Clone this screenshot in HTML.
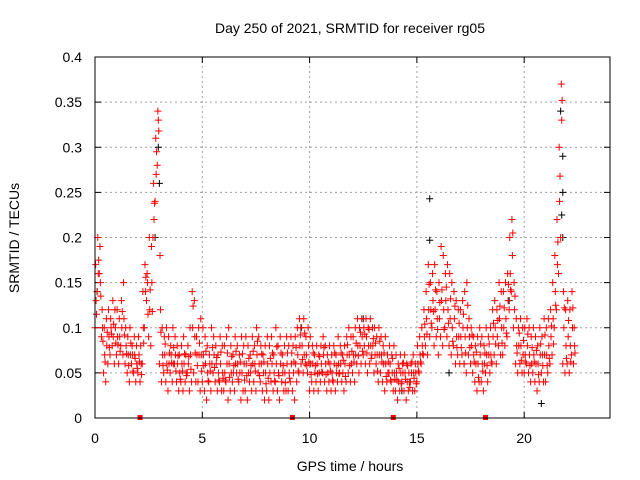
<!DOCTYPE html>
<html><head><meta charset="utf-8"><style>
body{margin:0;background:#fff;}
svg{display:block;font-family:"Liberation Sans",sans-serif;}
</style></head><body>
<svg id="chart" width="640" height="480">
<text x="350" y="33" font-size="14" text-anchor="middle">Day 250 of 2021, SRMTID for receiver rg05</text>
<text x="350" y="471" font-size="14" text-anchor="middle">GPS time / hours</text>
<text transform="translate(19,238) rotate(-90)" font-size="14" text-anchor="middle">SRMTID / TECUs</text>
<g id="grid"></g><g id="ticks"></g><g id="marks"></g>
<rect x="95" y="57" width="515" height="361" fill="none" stroke="#000" stroke-width="1"/>
</svg>
<script>
const xTicks=[0,5,10,15,20];
const yTicks=[0,0.05,0.1,0.15,0.2,0.25,0.3,0.35,0.4];
const yTickLabels=["0","0.05","0.1","0.15","0.2","0.25","0.3","0.35","0.4"];
const gapHours=[2.1,9.2,13.9,18.2];
const redHours=[0,0.1,0.2,0.3,0.4,0.5,0.6,0.7,0.8,0.9,1,1.1,1.2,1.3,1.4,1.5,1.6,1.7,1.8,1.9,2,2.1,2.2,2.3,2.4,2.5,2.6,2.7,2.8,2.9,3,3.1,3.2,3.3,3.4,3.5,3.6,3.7,3.8,3.9,4,4.1,4.2,4.3,4.4,4.5,4.6,4.7,4.8,4.9,5,5.1,5.2,5.3,5.4,5.5,5.6,5.7,5.8,5.9,6,6.1,6.2,6.3,6.4,6.5,6.6,6.7,6.8,6.9,7,7.1,7.2,7.3,7.4,7.5,7.6,7.7,7.8,7.9,8,8.1,8.2,8.3,8.4,8.5,8.6,8.7,8.8,8.9,9,9.1,9.2,9.3,9.4,9.5,9.6,9.7,9.8,9.9,10,10.1,10.2,10.3,10.4,10.5,10.6,10.7,10.8,10.9,11,11.1,11.2,11.3,11.4,11.5,11.6,11.7,11.8,11.9,12,12.1,12.2,12.3,12.4,12.5,12.6,12.7,12.8,12.9,13,13.1,13.2,13.3,13.4,13.5,13.6,13.7,13.8,13.9,14,14.1,14.2,14.3,14.4,14.5,14.6,14.7,14.8,14.9,15,15.1,15.2,15.3,15.4,15.5,15.6,15.7,15.8,15.9,16,16.1,16.2,16.3,16.4,16.5,16.6,16.7,16.8,16.9,17,17.1,17.2,17.3,17.4,17.5,17.6,17.7,17.8,17.9,18,18.1,18.2,18.3,18.4,18.5,18.6,18.7,18.8,18.9,19,19.1,19.2,19.3,19.4,19.5,19.6,19.7,19.8,19.9,20,20.1,20.2,20.3,20.4,20.5,20.6,20.7,20.8,20.9,21,21.1,21.2,21.3,21.4,21.5,21.6,21.7,21.8,21.9,22,22.1,22.2,22.3];
const redA=[.10,.14,.16,.09,.05,.04,.06,.07,.08,.06, .07,.06,.08,.07,.06,.05,.04,.06,.05,.04, .05,.04,.06,.10,.13,.09,.08,.20,.24,.28, .06,.04,.05,.04,.03,.05,.04,.06,.04,.03, .04,.03,.04,.05,.03,.04,.05,.04,.04,.03, .04,.03,.02,.04,.03,.05,.04,.03,.04,.03, .03,.04,.02,.03,.04,.03,.05,.04,.02,.03, .03,.02,.04,.03,.04,.03,.05,.04,.03,.02, .03,.02,.04,.03,.04,.03,.02,.04,.03,.03, .03,.04,.03,.02,.04,.05,.06,.05,.06,.05, .03,.04,.03,.04,.03,.04,.05,.04,.03,.04, .03,.04,.03,.04,.05,.04,.03,.04,.05,.04, .05,.04,.06,.05,.06,.07,.06,.05,.06,.07, .05,.06,.04,.05,.04,.03,.04,.05,.04,.03, .03,.02,.03,.04,.03,.02,.03,.04,.03,.03, .04,.05,.06,.07,.08,.07,.09,.10,.08,.09, .07,.09,.08,.10,.09,.08,.07,.08,.06,.07, .06,.07,.06,.05,.07,.06,.05,.04,.03,.04, .04,.03,.05,.04,.05,.06,.07,.06,.08,.07, .07,.08,.09,.12,.14,.10,.06,.05,.06,.05, .05,.06,.05,.04,.05,.04,.03,.04,.05,.04, .04,.05,.06,.07,.10,.12,.16,.20,.06,.05, .06,.05,.07,.06];
const redB=[.17,.20,.19,.12,.10,.11,.12,.11,.13,.12, .12,.11,.13,.15,.10,.09,.10,.08,.09,.08, .09,.08,.14,.17,.16,.20,.19,.26,.31,.34, .18,.10,.09,.10,.09,.08,.10,.09,.08,.07, .08,.09,.07,.08,.10,.14,.13,.09,.10,.11, .10,.09,.08,.07,.10,.09,.08,.07,.09,.08, .08,.09,.10,.08,.07,.09,.08,.07,.09,.08, .09,.08,.07,.09,.08,.10,.09,.08,.07,.08, .09,.08,.09,.07,.10,.08,.09,.07,.08,.09, .08,.09,.08,.09,.10,.11,.10,.11,.09,.10, .09,.08,.07,.08,.07,.08,.09,.08,.07,.08, .07,.08,.07,.09,.08,.07,.08,.09,.10,.09, .09,.10,.11,.10,.11,.10,.11,.10,.11,.10, .10,.09,.10,.09,.08,.09,.07,.08,.07,.08, .07,.06,.07,.06,.07,.06,.05,.06,.07,.06, .08,.09,.10,.12,.14,.17,.15,.16,.17,.14, .15,.19,.18,.16,.17,.16,.15,.14,.13,.12, .12,.13,.14,.15,.11,.10,.09,.08,.09,.10, .09,.08,.10,.09,.10,.12,.13,.12,.15,.14, .14,.15,.16,.20,.22,.15,.11,.10,.11,.10, .10,.11,.10,.09,.10,.09,.08,.10,.09,.11, .10,.11,.12,.15,.18,.22,.30,.37,.14,.12, .13,.12,.14,.10];
const redC=[.13,.16,.15,.10,.07,.08,.09,.10,.09,.10, .09,.09,.10,.11,.08,.07,.07,.07,.07,.06, .07,.06,.10,.14,.15,.12,.15,.22,.27,.33, .12,.07,.07,.06,.06,.07,.06,.07,.06,.05, .06,.06,.05,.06,.07,.10,.09,.07,.07,.07, .07,.06,.05,.06,.06,.07,.06,.05,.06,.05, .05,.06,.06,.05,.05,.06,.06,.05,.05,.06, .06,.05,.05,.06,.06,.07,.06,.06,.05,.05, .06,.05,.06,.05,.06,.05,.06,.05,.05,.06, .05,.06,.05,.06,.07,.08,.08,.07,.07,.08, .06,.06,.05,.06,.05,.06,.07,.06,.05,.06, .05,.06,.05,.06,.06,.05,.06,.07,.07,.06, .07,.07,.08,.08,.09,.08,.09,.08,.08,.08, .07,.07,.07,.07,.06,.06,.05,.06,.05,.05, .05,.04,.05,.05,.05,.04,.04,.05,.05,.05, .06,.07,.08,.09,.11,.12,.12,.13,.12,.11, .11,.13,.12,.13,.12,.11,.10,.11,.09,.09, .09,.10,.09,.10,.09,.08,.07,.06,.06,.07, .06,.06,.07,.07,.07,.09,.10,.09,.11,.10, .10,.11,.13,.16,.18,.12,.08,.08,.08,.07, .07,.08,.07,.06,.07,.06,.06,.07,.07,.07, .07,.08,.09,.11,.14,.17,.24,.33,.10,.08, .09,.08,.10,.08];
const redD=[.115,.175,.135,.085,.062,.095,.078,.093,.104,.083, .081,.074,.118,.092,.071,.058,.083,.052,.066,.055, .062,.048,.083,.156,.115,.142,.118,.238,.295,.318, .095,.058,.082,.053,.072,.061,.078,.052,.069,.043, .052,.071,.047,.068,.054,.124,.072,.058,.083,.052, .058,.074,.041,.052,.078,.056,.067,.042,.073,.044, .042,.072,.045,.068,.058,.074,.043,.062,.071,.042, .047,.066,.058,.074,.052,.085,.047,.071,.062,.038, .044,.066,.072,.041,.079,.047,.072,.058,.039,.072, .044,.072,.062,.078,.052,.092,.065,.094,.058,.062, .048,.072,.058,.049,.068,.051,.078,.048,.062,.052, .042,.072,.058,.049,.072,.064,.046,.081,.058,.074, .062,.083,.069,.095,.074,.093,.072,.098,.066,.088, .083,.052,.085,.062,.072,.046,.062,.042,.066,.043, .042,.055,.038,.061,.043,.058,.034,.062,.044,.038, .052,.062,.071,.104,.093,.148,.105,.118,.142,.098, .128,.142,.098,.145,.105,.132,.085,.124,.078,.105, .078,.115,.072,.125,.078,.092,.062,.073,.045,.082, .052,.072,.058,.082,.062,.105,.082,.108,.124,.083, .122,.094,.148,.142,.205,.135,.072,.094,.064,.086, .062,.093,.058,.078,.062,.075,.048,.082,.058,.092, .058,.066,.102,.082,.125,.195,.268,.352,.122,.066, .108,.062,.122,.072];
const blackHours=[0.1,2.8,2.95,3.0,15.6,15.6,16.5,19.3,20.8,21.7,21.8,21.8,21.75,21.8,14.3,9.6,12.5,17.2];
const blackValues=[.14,.20,.30,.26,.243,.197,.05,.13,.016,.34,.29,.25,.225,.20,.03,.10,.11,.06];
const X0=95,X1=610,Y0=418,Y1=57,XMAX=24,YMAX=0.4;
const xs=h=>X0+(X1-X0)*h/XMAX;
const ys=v=>Y0-(Y0-Y1)*v/YMAX;
const NS="http://www.w3.org/2000/svg";
function mk(tag,attrs,parent){const e=document.createElementNS(NS,tag);for(const k in attrs)e.setAttribute(k,attrs[k]);parent.appendChild(e);return e;}
const grid=document.getElementById('grid'),ticks=document.getElementById('ticks'),marks=document.getElementById('marks');
yTicks.forEach((v,i)=>{
 if(i>0&&i<yTicks.length-1){const g=mk('line',{x1:X0,x2:X1,y1:ys(v),y2:ys(v),stroke:'#a0a0a0','stroke-dasharray':'2,3'},grid);
 
 }
 mk('line',{x1:X0,x2:X0+6,y1:ys(v),y2:ys(v),stroke:'#000'},ticks);
 mk('line',{x1:X1,x2:X1-6,y1:ys(v),y2:ys(v),stroke:'#000'},ticks);
 const t=mk('text',{x:82,y:ys(v)+5,'font-size':14,'text-anchor':'end'},ticks);t.textContent=yTickLabels[i];
 
 
});
xTicks.forEach(h=>{
 if(h>0){const g=mk('line',{x1:xs(h),x2:xs(h),y1:Y0,y2:Y1,stroke:'#a0a0a0','stroke-dasharray':'2,3'},grid);
 
 }
 mk('line',{x1:xs(h),x2:xs(h),y1:Y0,y2:Y0-6,stroke:'#000'},ticks);
 mk('line',{x1:xs(h),x2:xs(h),y1:Y1,y2:Y1+6,stroke:'#000'},ticks);
 const t=mk('text',{x:xs(h),y:Y0+25,'font-size':14,'text-anchor':'middle'},ticks);t.textContent=String(h);
 
 
});
function plus(h,v,c,name){const x=xs(h),y=ys(v);
 const p=mk('path',{d:`M${x-3.5} ${y}H${x+3.5}M${x} ${y-3.5}V${y+3.5}`,stroke:c,'stroke-width':1,fill:'none'},marks);
 
 }
blackHours.forEach((h,i)=>plus(h,blackValues[i],'#000','black-point'));
redHours.forEach((h,i)=>{
 plus(h,redA[i],'#ff0000','red-point');
 plus(h+0.05,redC[i],'#ff0000','red-point');
 plus(h+0.03,redB[i],'#ff0000','red-point');
 plus(h+0.07,redD[i],'#ff0000','red-point');
});
gapHours.forEach(h=>{const r=mk('rect',{x:xs(h)-2.5,y:Y0-3,width:5,height:5,fill:'#ff0000'},marks);
 
 });
</script>
</body></html>
